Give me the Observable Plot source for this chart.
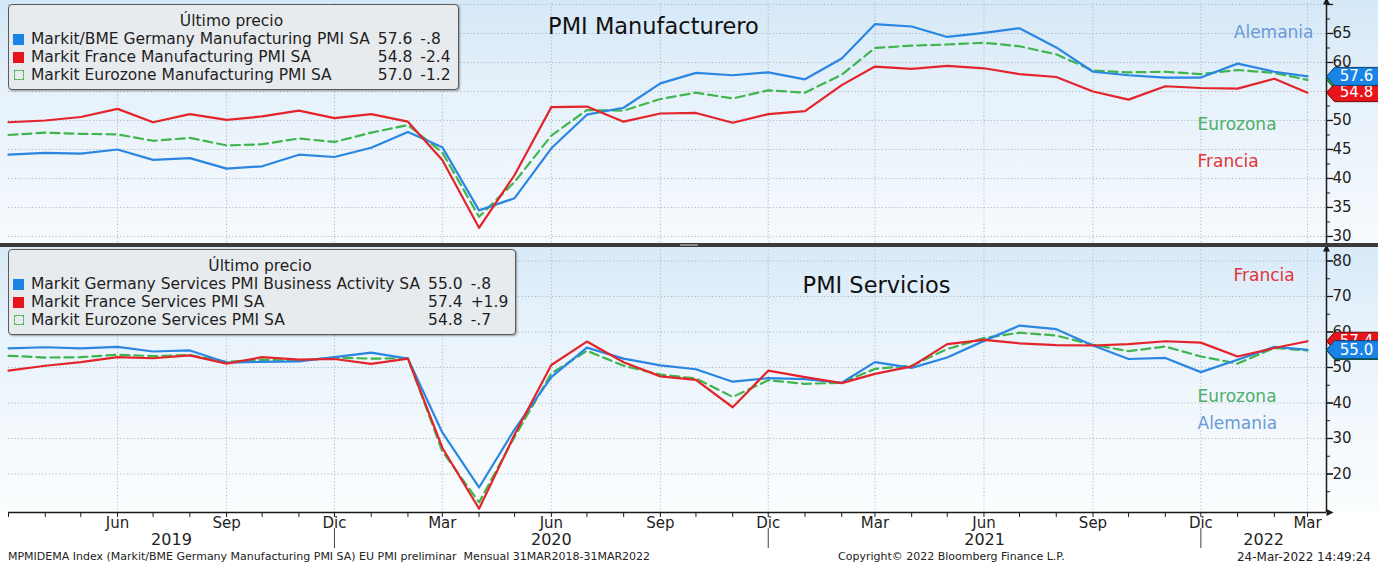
<!DOCTYPE html>
<html>
<head>
<meta charset="utf-8">
<script src="https://cdn.jsdelivr.net/npm/d3@7"></script>
<script src="https://cdn.jsdelivr.net/npm/@observablehq/plot@0.6"></script>
<style>
  html,body{margin:0;padding:0;background:#fff;}
  #chart{position:relative;width:1378px;height:566px;overflow:hidden;font-family:"DejaVu Sans",sans-serif;color:#1a1a1a;}
  .svgwrap{position:absolute;left:0;}
  .svgwrap svg{display:block;}
  #sep{position:absolute;left:0;top:243px;width:1378px;height:4px;background:#3a3a3a;z-index:3;}
  #sepHandle{position:absolute;left:680px;top:244px;width:18px;height:2px;background:#8a8a8a;z-index:4;}
  .legend{position:absolute;z-index:5;box-sizing:border-box;background:#e8ebee;border:1.5px solid #5b5b5b;border-radius:4px;box-shadow:1px 1px 2px rgba(0,0,0,.35);font-size:15.5px;color:#1e1e1e;padding:7px 8px 6px 4px;}
  .legend .lt{text-align:center;height:18px;line-height:18px;}
  .legend .grid{display:grid;grid-template-columns:12px max-content max-content max-content;column-gap:6px;grid-auto-rows:18px;align-items:center;line-height:18px;}
  .legend .vl{text-align:right;padding-left:2px;}
  .legend .ch{text-align:left;padding-left:2px;}
  .mk{width:11px;height:11px;}
  .mk.hollow{box-sizing:border-box;width:10px;height:10px;border:1.5px dashed #45b455;margin-left:1px;}
  .foot{position:absolute;top:550px;font-family:"DejaVu Sans",sans-serif;font-size:11px;color:#222;white-space:pre;line-height:14px;}
</style>
</head>
<body>
<div id="chart">
  <div class="svgwrap" id="topPanel" style="top:0"></div>
  <div id="sep"></div><div id="sepHandle"></div>
  <div class="svgwrap" id="bottomPanel" style="top:247px"></div>
  <div class="legend" id="legTop" style="left:8px;top:4px;width:451px;height:86px;"></div>
  <div class="legend" id="legBottom" style="left:8px;top:249px;width:508px;height:86px;"></div>
  <div class="foot" style="left:8px;">MPMIDEMA Index (Markit/BME Germany Manufacturing PMI SA) EU PMI preliminar  Mensual 31MAR2018-31MAR2022</div>
  <div class="foot" style="left:838px;">Copyright© 2022 Bloomberg Finance L.P.</div>
  <div class="foot" style="right:7px;font-size:12px;">24-Mar-2022 14:49:24</div>
</div>
<script>
// ---------------- DATA ----------------
const months = ["2019-03","2019-04","2019-05","2019-06","2019-07","2019-08","2019-09","2019-10","2019-11","2019-12",
  "2020-01","2020-02","2020-03","2020-04","2020-05","2020-06","2020-07","2020-08","2020-09","2020-10","2020-11","2020-12",
  "2021-01","2021-02","2021-03","2021-04","2021-05","2021-06","2021-07","2021-08","2021-09","2021-10","2021-11","2021-12",
  "2022-01","2022-02","2022-03"];

// PMI Manufacturero
const germanyMfg  = [44.1,44.4,44.3,45.0,43.2,43.5,41.7,42.1,44.1,43.7, 45.3,48.0,45.4,34.5,36.6,45.2,51.0,52.2,56.4,58.2,57.8,58.3, 57.1,60.7,66.6,66.2,64.4,65.1,65.9,62.6,58.4,57.8,57.4,57.4, 59.8,58.4,57.6];
const franceMfg   = [49.7,50.0,50.6,52.0,49.7,51.1,50.1,50.7,51.7,50.4, 51.1,49.8,43.2,31.5,40.6,52.3,52.4,49.8,51.2,51.3,49.6,51.1, 51.6,56.1,59.3,58.9,59.4,59.0,58.0,57.5,55.0,53.6,55.9,55.6, 55.5,57.2,54.8];
const eurozoneMfg = [47.5,47.9,47.7,47.6,46.5,47.0,45.7,45.9,46.9,46.3, 47.9,49.2,44.5,33.4,39.4,47.4,51.8,51.7,53.7,54.8,53.8,55.2, 54.8,57.9,62.5,62.9,63.1,63.4,62.8,61.4,58.6,58.3,58.4,58.0, 58.7,58.2,57.0];

// PMI Servicios
const germanySrv  = [55.4,55.7,55.4,55.8,54.5,54.8,51.4,51.6,51.7,52.9, 54.2,52.5,31.7,16.2,32.6,47.3,55.6,52.5,50.6,49.5,46.0,47.0, 46.7,45.7,51.5,49.9,52.8,57.5,61.8,60.8,56.2,52.4,52.7,48.7, 52.2,55.8,55.0];
const franceSrv   = [49.1,50.5,51.5,52.9,52.6,53.4,51.1,52.9,52.2,52.4, 51.0,52.5,27.4,10.2,31.1,50.7,57.3,51.5,47.5,46.5,38.8,49.1, 47.3,45.6,48.2,50.3,56.6,57.8,56.8,56.3,56.2,56.6,57.4,57.0, 53.1,55.5,57.4];
const eurozoneSrv = [53.3,52.8,52.9,53.6,53.2,53.5,51.6,52.2,51.9,52.8, 52.5,52.6,26.4,12.0,30.5,48.3,54.7,50.5,48.0,46.9,41.7,46.4, 45.4,45.7,49.6,50.5,55.2,58.3,59.8,59.0,56.4,54.6,55.9,53.1, 51.1,55.5,54.8];

const namesMfg = ["Markit/BME Germany Manufacturing PMI SA","Markit France Manufacturing PMI SA","Markit Eurozone Manufacturing PMI SA"];
const namesSrv = ["Markit Germany Services PMI Business Activity SA","Markit France Services PMI SA","Markit Eurozone Services PMI SA"];
const shortNames = ["Alemania","Francia","Eurozona"];

const monthAbbr = ["Ene","Feb","Mar","Abr","May","Jun","Jul","Ago","Sep","Oct","Nov","Dic"];
const quarterTicks = ["2019-06","2019-09","2019-12","2020-03","2020-06","2020-09","2020-12","2021-03","2021-06","2021-09","2021-12","2022-03"];
const yearSeparators = ["2019-12","2020-12","2021-12"];
const yearLabels = ["2019","2020","2021","2022"];
const topTicks = [30,35,40,45,50,55,60,65];
const topTickMarks = [30,35,40,45,50,55,60,65,70];
const topMinor = [32.5,37.5,42.5,47.5,52.5,57.5,62.5,67.5];
const bottomTicks = [20,30,40,50,60,70,80];
const bottomMinor = [15,25,35,45,55,65,75];

const titleTop = "PMI Manufacturero";
const titleBottom = "PMI Servicios";

// ---------------- STYLE ----------------
const C = {blue:"#2a86e2", red:"#e3242b", green:"#3fb54d",
           blueLbl:"#6a9ad8", redLbl:"#e0353a", greenLbl:"#4fae6c",
           blueTag:"#1a84e6", redTag:"#e8141c", greenTag:"#2ea043"};
const W = 1378;
const parse = s => new Date(s + "-01T00:00:00Z");
const dates = months.map(parse);
const xStart = dates[0];
const xEnd = new Date("2022-03-17T00:00:00Z");
const font = "DejaVu Sans";

function tidy(arr){ return arr.map((v,i)=>({date:dates[i], value:v})); }
function fmtChg(c){ const s = Math.abs(c).toFixed(1).replace(/^0\./,"."); return (c<0?"-":"+")+s; }

const tagSymbol = {draw(ctx){
  ctx.moveTo(-26,0); ctx.lineTo(-18,-9); ctx.lineTo(27,-9); ctx.lineTo(27,9); ctx.lineTo(-18,9); ctx.closePath();
}};
const arrowSymbol = {draw(ctx){ ctx.moveTo(0,-3.5); ctx.lineTo(7,0); ctx.lineTo(0,3.5); ctx.closePath(); }};
const arrowUpSymbol = {draw(ctx){ ctx.moveTo(-3.5,0); ctx.lineTo(0,-7); ctx.lineTo(3.5,0); ctx.closePath(); }};

function panel({arrays, yDomain, height, marginBottom, ticks, tickMarks, minor, title, titleDx, titleDy, labels, gradient, bottomAxis}){
  const [de, fr, ez] = arrays;
  const tags = [
    {value: ez[ez.length-1], fill:C.greenTag, stroke:"#145a22"},
    {value: fr[fr.length-1], fill:C.redTag, stroke:"#6a0a0a"},
    {value: de[de.length-1], fill:C.blueTag, stroke:"#0b3f70"}
  ].map(d=>({...d, label:d.value.toFixed(1)}));

  const marks = [
    Plot.gridY(tickMarks, {stroke:"#a9b3bd", strokeOpacity:0.9, strokeDasharray:"1.2,2.2", strokeWidth:1}),
    Plot.gridX(quarterTicks.map(parse), {stroke:"#a9b3bd", strokeOpacity:0.9, strokeDasharray:"1.2,2.2", strokeWidth:1}),
    Plot.line(tidy(ez), {x:"date", y:"value", stroke:C.green, strokeWidth:2.2, strokeDasharray:"9,5"}),
    Plot.line(tidy(de), {x:"date", y:"value", stroke:C.blue, strokeWidth:2.2}),
    Plot.line(tidy(fr), {x:"date", y:"value", stroke:C.red, strokeWidth:2.2}),
    Plot.ruleX([xEnd], {stroke:"#1a1a1a", strokeWidth:1.5}),
    Plot.axisY(tickMarks, {anchor:"right", tickSize:6, text:null, label:null, stroke:"#1a1a1a", strokeWidth:1.3}),
    Plot.axisY(ticks, {anchor:"right", tickSize:6, tickPadding:0, label:null, fontSize:15, fill:"#1e1e1e", stroke:"#1a1a1a", tickFormat:d=>String(d)}),
    Plot.axisY(minor, {anchor:"right", tickSize:3, text:null, label:null, stroke:"#1a1a1a"}),
    Plot.dot([xEnd], {x:d=>d, frameAnchor:"top", symbol:arrowUpSymbol, fill:"#1a1a1a", r:3, dy:1}),
    Plot.text([title], {text:d=>d, frameAnchor:"top", dx:titleDx, dy:titleDy, fontSize:22.5, fill:"#111", lineAnchor:"middle"}),
    ...labels.map(l => Plot.text([l.text], {text:d=>d, frameAnchor:"top-right", textAnchor:l.anchor, dx:l.dx, dy:l.dy, fontSize:17, fill:l.color, lineAnchor:"middle"}))
  ];
  // tags: each shape followed by its own text so later tags cover earlier ones
  tags.forEach(t => {
    marks.push(
      Plot.dot([t], {y:"value", frameAnchor:"right", dx:26, symbol:tagSymbol, r:5, fill:"fill", stroke:"stroke", strokeWidth:1}),
      Plot.text([t], {y:"value", text:"label", frameAnchor:"right", dx:30, fill:"white", fontSize:15, textAnchor:"middle", lineAnchor:"middle"})
    );
  });

  if (bottomAxis){
    const bounds = [xStart, ...yearSeparators.map(parse), xEnd];
    const yearData = yearLabels.map((y,i)=>({year:y, mid:new Date((+bounds[i] + +bounds[i+1])/2)}));
    marks.push(
      Plot.ruleY([yDomain[0]], {stroke:"#1a1a1a", strokeWidth:1.5}),
      Plot.dot([xEnd], {x:d=>d, frameAnchor:"bottom", symbol:arrowSymbol, fill:"#1a1a1a", r:3}),
      Plot.axisX(dates, {anchor:"bottom", tickSize:5, text:null, label:null, stroke:"#1a1a1a"}),
      Plot.axisX(quarterTicks.map(parse), {anchor:"bottom", tickSize:0, tickPadding:5, label:null, fontSize:15, fill:"#1e1e1e", tickFormat:d=>monthAbbr[d.getUTCMonth()]}),
      Plot.axisX(yearSeparators.map(parse), {anchor:"bottom", tickSize:20, dy:16, text:null, label:null, stroke:"#444", strokeWidth:1}),
      Plot.text(yearData, {x:"mid", text:"year", frameAnchor:"bottom", dy:27, fontSize:16, fill:"#1e1e1e", lineAnchor:"middle"})
    );
  }

  return Plot.plot({
    width: W, height, marginLeft: 8, marginRight: 52, marginTop: 3, marginBottom,
    x: {type:"utc", domain:[xStart, xEnd], axis:null, label:null},
    y: {domain: yDomain, axis:null, label:null},
    color: {type:"identity"},
    style: {background: gradient, fontFamily: font, overflow:"visible", color:"#1e1e1e"},
    marks
  });
}

const topSvg = panel({
  arrays:[germanyMfg, franceMfg, eurozoneMfg],
  yDomain:[28.79, 70.17], height:245, marginBottom:2,
  ticks:topTicks, tickMarks:topTickMarks, minor:topMinor,
  title:titleTop, titleDx:-14, titleDy:23,
  labels:[
    {text:shortNames[0], color:C.blueLbl, anchor:"end", dx:-13, dy:29},
    {text:shortNames[2], color:C.greenLbl, anchor:"start", dx:-129, dy:121},
    {text:shortNames[1], color:C.redLbl, anchor:"start", dx:-129, dy:158}
  ],
  gradient:"linear-gradient(to bottom, #d5e8f7 0px, #e6f1fa 90px, #f6fafd 243px, #f6fafd 245px)",
  bottomAxis:false
});
const bottomSvg = panel({
  arrays:[germanySrv, franceSrv, eurozoneSrv],
  yDomain:[9.15, 82.96], height:319, marginBottom:54,
  ticks:bottomTicks, tickMarks:bottomTicks, minor:bottomMinor,
  title:titleBottom, titleDx:209, titleDy:35,
  labels:[
    {text:shortNames[1], color:C.redLbl, anchor:"start", dx:-93, dy:25},
    {text:shortNames[2], color:C.greenLbl, anchor:"start", dx:-129, dy:146},
    {text:shortNames[0], color:C.blueLbl, anchor:"start", dx:-129, dy:173}
  ],
  gradient:"linear-gradient(to bottom, #d8eaf8 0px, #e9f3fb 90px, #fbfdfe 265px, #ffffff 266px, #ffffff 319px)",
  bottomAxis:true
});
document.getElementById("topPanel").appendChild(topSvg);
document.getElementById("bottomPanel").appendChild(bottomSvg);

// ---------------- LEGENDS ----------------
function legend(id, names, arrays){
  const markers = [`<div class="mk" style="background:${C.blueTag}"></div>`, `<div class="mk" style="background:${C.redTag}"></div>`, `<div class="mk hollow"></div>`];
  const rows = arrays.map((a,i)=>{
    const last = a[a.length-1], prev = a[a.length-2];
    return `${markers[i]}<div class="nm">${names[i]}</div><div class="vl">${last.toFixed(1)}</div><div class="ch">${fmtChg(last-prev)}</div>`;
  }).join("");
  document.getElementById(id).innerHTML = `<div class="lt">Último precio</div><div class="grid">${rows}</div>`;
}
legend("legTop", namesMfg, [germanyMfg, franceMfg, eurozoneMfg]);
legend("legBottom", namesSrv, [germanySrv, franceSrv, eurozoneSrv]);
</script>
</body>
</html>
